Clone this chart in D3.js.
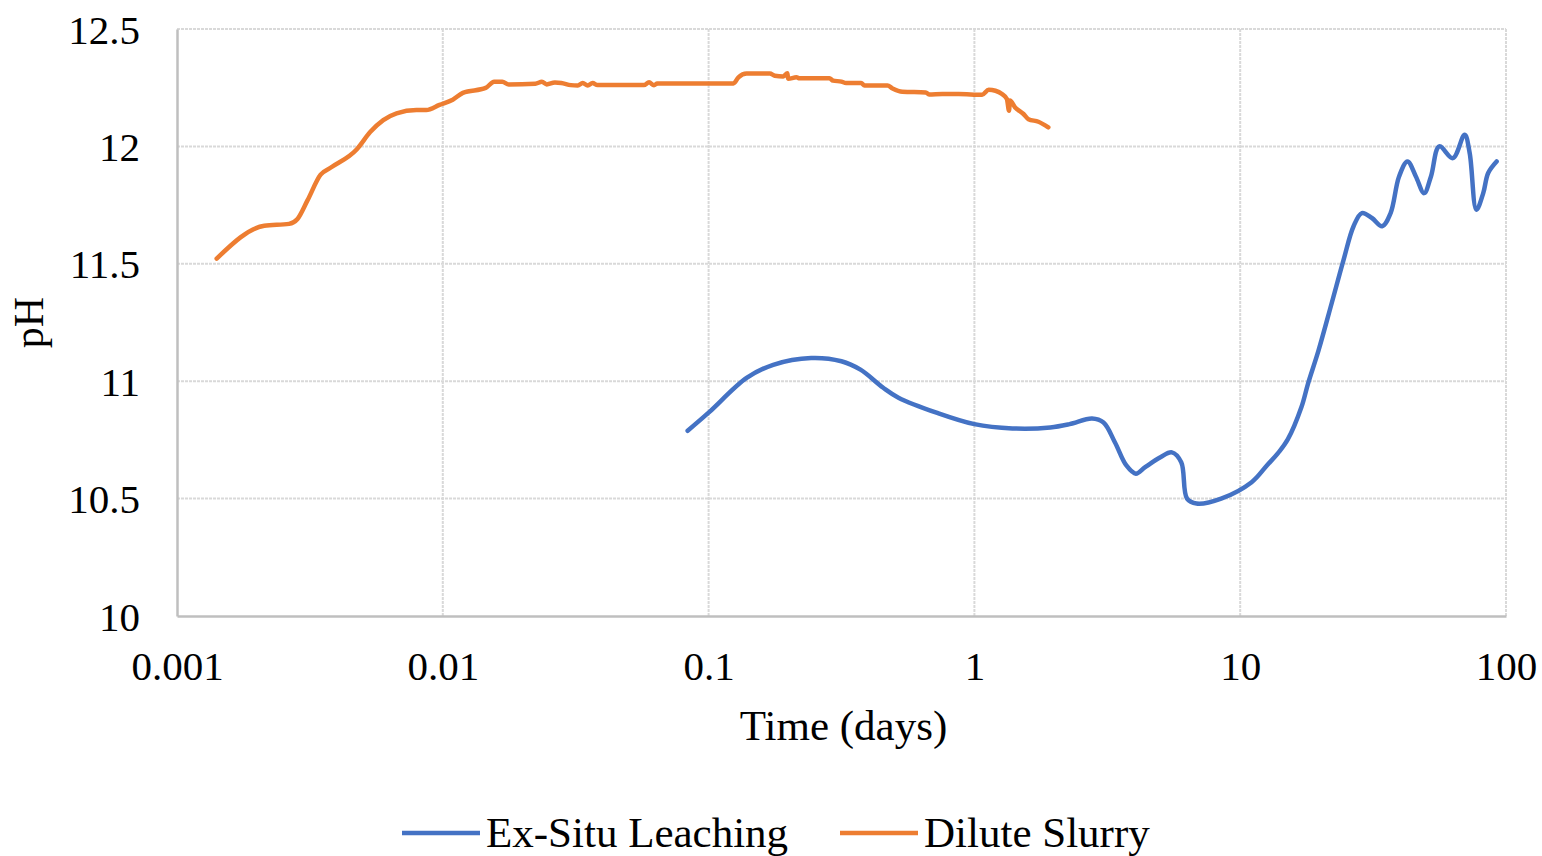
<!DOCTYPE html>
<html><head><meta charset="utf-8">
<script src="https://cdn.jsdelivr.net/npm/d3@7"></script>
<style>
body{margin:0;background:#fff}
svg{display:block}
text{font-family:"Liberation Serif","Times New Roman",serif;fill:#000}
</style>
</head><body>
<svg id="c" width="1542" height="856"></svg>
<script>
const xTickValues = [0.001, 0.01, 0.1, 1, 10, 100];
const xTickLabels = ["0.001", "0.01", "0.1", "1", "10", "100"];
const yTickValues = [10, 10.5, 11, 11.5, 12, 12.5];
const yTickLabels = ["10", "10.5", "11", "11.5", "12", "12.5"];
const seriesNames = ["Ex-Situ Leaching", "Dilute Slurry"];
const seriesColors = ["#4472C4", "#ED7D31"];

const exSituTime = [0.0834,0.1,0.139,0.175,0.243,0.316,0.3727,0.454,0.518,0.72,1.0,1.39,1.93,2.28,2.77,3.06,3.38,3.73,4.05,4.39,5.01,5.53,6.0,6.31,6.85,8.48,11.04,12.6,13.9,15.1,17.0,18.0,19.7,22.1,24.5,26.7,28.7,31.3,34.2,36.8,39.6,42.6,45.8,49.2,52.2,56.1,63.1,69.9,73.0,77.4,82.1,85.7,92.2];
const exSituPH = [10.789,10.866,11.014,11.070,11.099,11.085,11.049,10.972,10.930,10.866,10.817,10.799,10.803,10.817,10.841,10.824,10.739,10.641,10.606,10.634,10.676,10.697,10.655,10.5,10.479,10.5,10.570,10.641,10.695,10.752,10.890,10.990,11.130,11.333,11.518,11.660,11.716,11.695,11.660,11.716,11.872,11.936,11.872,11.801,11.872,12.0,11.950,12.05,11.972,11.730,11.801,11.887,11.936];

const slurryTime = [0.00141,0.00213,0.00264,0.00284,0.0031,0.00347,0.00378,0.00475,0.00533,0.00597,0.0067,0.00796,0.00867,0.00972,0.0109,0.0119,0.0145,0.0156,0.01675,0.0177,0.0223,0.0236,0.0246,0.0264,0.0279,0.0303,0.0322,0.0336,0.0351,0.0366,0.0382,0.0571,0.0597,0.0623,0.0641,0.0879,0.124,0.1295,0.139,0.170,0.1775,0.191,0.198,0.199,0.214,0.220,0.285,0.294,0.316,0.329,0.375,0.386,0.471,0.492,0.536,0.656,0.675,0.757,0.873,1.069,1.132,1.2,1.27,1.325,1.350,1.36,1.423,1.53,1.597,1.741,1.897];
const slurryPH = [11.522,11.662,11.670,11.691,11.771,11.880,11.909,11.988,12.061,12.112,12.141,12.155,12.155,12.177,12.199,12.228,12.249,12.275,12.275,12.264,12.267,12.275,12.264,12.272,12.270,12.261,12.259,12.270,12.259,12.270,12.261,12.261,12.273,12.260,12.268,12.268,12.268,12.294,12.310,12.310,12.301,12.298,12.312,12.288,12.294,12.290,12.290,12.280,12.276,12.270,12.270,12.259,12.259,12.247,12.233,12.230,12.221,12.223,12.223,12.220,12.241,12.237,12.223,12.202,12.152,12.195,12.166,12.138,12.116,12.105,12.081];

const svg = d3.select("#c");
const L = 177, R = 1506, T = 29, B = 616;
const x = d3.scaleLog().domain([0.001, 100]).range([L, R]);
const y = d3.scaleLinear().domain([10, 12.5]).range([B, T]);

// gridlines
const grid = svg.append("g");
grid.selectAll("line.h").data(yTickValues.slice(1)).join("line")
  .attr("x1", L).attr("x2", R).attr("y1", d => y(d)).attr("y2", d => y(d))
  .attr("stroke", "#d9d9d9").attr("stroke-width", 2).attr("stroke-dasharray", "3,1");
grid.selectAll("line.v").data(xTickValues.slice(1)).join("line")
  .attr("y1", T).attr("y2", B).attr("x1", d => x(d)).attr("x2", d => x(d))
  .attr("stroke", "#d9d9d9").attr("stroke-width", 2).attr("stroke-dasharray", "3,1");

// axes
const xAxis = d3.axisBottom(x).tickValues(xTickValues).tickSize(0).tickPadding(0)
  .tickFormat((d, i) => xTickLabels[i]);
const gx = svg.append("g").attr("transform", `translate(0,${B})`).call(xAxis);
gx.select(".domain").attr("stroke", "#bfbfbf").attr("stroke-width", 2.5);
gx.selectAll("text").attr("font-size", 41).attr("dy", null).attr("y", 64)
  .attr("font-family", "Liberation Serif");

const yAxis = d3.axisLeft(y).tickValues(yTickValues).tickSize(0).tickPadding(0)
  .tickFormat((d, i) => yTickLabels[i]);
const gy = svg.append("g").attr("transform", `translate(${L},0)`).call(yAxis);
gy.select(".domain").attr("stroke", "#bfbfbf").attr("stroke-width", 2.5);
gy.selectAll("text").attr("font-size", 41).attr("dy", null).attr("x", -37).attr("y", 14)
  .attr("font-family", "Liberation Serif");

// axis titles
svg.append("text").attr("x", (L + R) / 2 + 2).attr("y", 740).attr("text-anchor", "middle")
  .attr("font-size", 43).text("Time (days)");
svg.append("text").attr("transform", `translate(43,${(T + B) / 2}) rotate(-90)`)
  .attr("text-anchor", "middle").attr("font-size", 42).text("pH");

// lines
const lineSmooth = d3.line().x(d => x(d[0])).y(d => y(d[1])).curve(d3.curveCatmullRom.alpha(0.5));
const lineRaw = d3.line().x(d => x(d[0])).y(d => y(d[1])).curve(d3.curveMonotoneX);
svg.append("path").datum(exSituTime.map((t, i) => [t, exSituPH[i]]))
  .attr("d", lineSmooth).attr("fill", "none").attr("stroke", seriesColors[0])
  .attr("stroke-width", 4.5).attr("stroke-linecap", "round").attr("stroke-linejoin", "round");
svg.append("path").datum(slurryTime.map((t, i) => [t, slurryPH[i]]))
  .attr("d", lineRaw).attr("fill", "none").attr("stroke", seriesColors[1])
  .attr("stroke-width", 4.5).attr("stroke-linecap", "round").attr("stroke-linejoin", "round");

// legend
const legendX = [402, 840];
seriesNames.forEach((n, i) => {
  svg.append("line").attr("x1", legendX[i]).attr("x2", legendX[i] + 78)
    .attr("y1", 833).attr("y2", 833).attr("stroke", seriesColors[i]).attr("stroke-width", 4.5);
  svg.append("text").attr("x", legendX[i] + 84).attr("y", 847).attr("font-size", 43).text(n);
});
</script>
</body></html>
